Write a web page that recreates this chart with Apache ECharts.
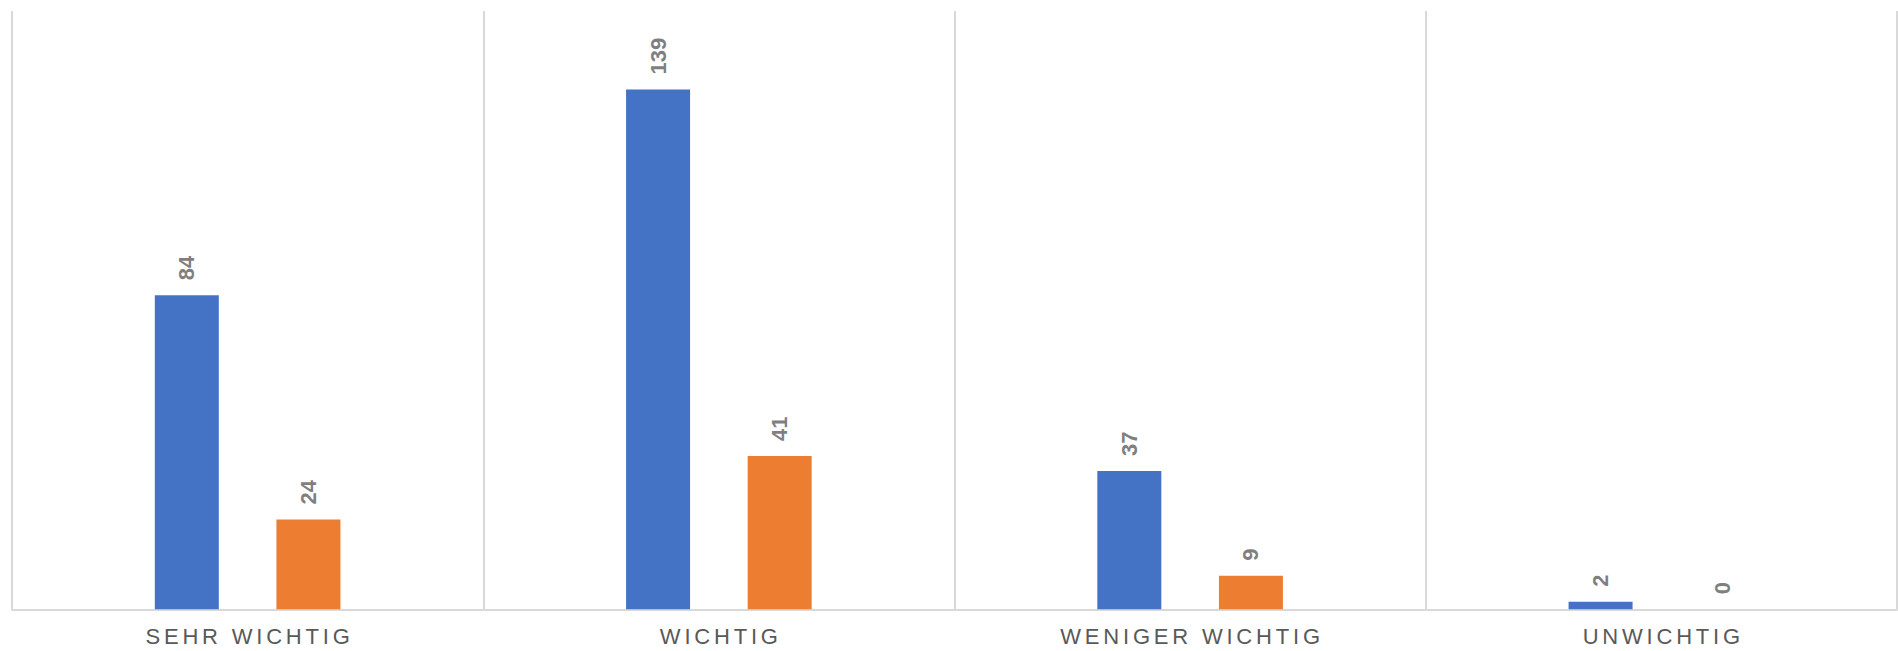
<!DOCTYPE html>
<html>
<head>
<meta charset="utf-8">
<script src="https://cdn.jsdelivr.net/npm/echarts@6/dist/echarts.min.js"></script>
<style>
  html, body { margin: 0; padding: 0; background: #ffffff; }
  #chart { width: 1898px; height: 651px; }
  #chart svg text[fill="#595959"] { letter-spacing: 3.8px; }
</style>
</head>
<body>
<div id="chart"></div>
<script>
const categories = ['SEHR WICHTIG', 'WICHTIG', 'WENIGER WICHTIG', 'UNWICHTIG'];
const series1Values = [84, 139, 37, 2];
const series2Values = [24, 41, 9, 0];
const seriesNames = ['Reihe 1', 'Reihe 2'];

const chart = echarts.init(document.getElementById('chart'), null, { renderer: 'svg' });

const labelStyle = {
  show: true,
  position: 'top',
  rotate: 90,
  align: 'left',
  verticalAlign: 'middle',
  distance: 15,
  color: '#7f7f7f',
  fontFamily: 'Liberation Sans, Arial, sans-serif',
  fontWeight: 'bold',
  fontSize: 22
};

chart.setOption({
  backgroundColor: '#ffffff',
  animation: false,
  grid: { left: 12, right: 1, top: 11, bottom: 41.7, containLabel: false },
  xAxis: {
    type: 'category',
    data: categories,
    boundaryGap: true,
    axisLine: { show: true, lineStyle: { color: '#d9d9d9', width: 2 } },
    axisTick: { show: false },
    splitLine: { show: true, interval: 0, lineStyle: { color: '#d9d9d9', width: 2 } },
    axisLabel: {
      interval: 0,
      margin: 16,
      color: '#595959',
      fontFamily: 'Liberation Sans, Arial, sans-serif',
      fontSize: 22,
      padding: [0, 0, 0, 3.8]
    }
  },
  yAxis: {
    type: 'value',
    min: 0,
    max: 160,
    show: false,
    splitLine: { show: false }
  },
  series: [
    {
      name: seriesNames[0],
      type: 'bar',
      data: series1Values,
      barWidth: 64,
      barGap: '90%',
      itemStyle: { color: '#4472C4' },
      label: labelStyle
    },
    {
      name: seriesNames[1],
      type: 'bar',
      data: series2Values,
      barWidth: 64,
      barGap: '90%',
      itemStyle: { color: '#ED7D31' },
      label: labelStyle
    }
  ]
});
</script>
</body>
</html>
